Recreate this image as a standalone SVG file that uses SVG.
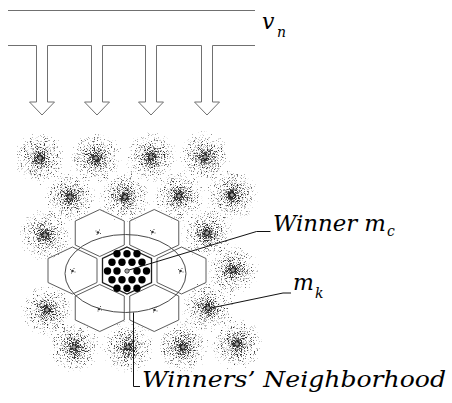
<svg xmlns="http://www.w3.org/2000/svg" width="452" height="403" viewBox="0 0 452 403">
  <style>
    .bus{fill:#fff;stroke:#707070;stroke-width:1}
    .hex{fill:none;stroke:#5c5c5c;stroke-width:1}
    .hex-win{fill:#fff;stroke:#1e1e1e;stroke-width:1.3}
    .ring{fill:none;stroke:#4a4a4a;stroke-width:1}
    .lead{fill:none;stroke:#111;stroke-width:1}
    .lbl{font-family:"DejaVu Serif","Liberation Serif",serif;font-style:italic;fill:#000}
    .core{fill:#fff;stroke:#000;stroke-width:0.9}
    .cloud{fill:url(#dens)}
    .spot{fill:#333}
  </style>
  <defs>
    <!-- density of the sample cloud around each prototype -->
    <radialGradient id="dens">
      <stop offset="0" stop-color="#000" stop-opacity="0.85"/>
      <stop offset="0.1" stop-color="#000" stop-opacity="0.7"/>
      <stop offset="0.25" stop-color="#000" stop-opacity="0.56"/>
      <stop offset="0.5" stop-color="#000" stop-opacity="0.47"/>
      <stop offset="0.75" stop-color="#000" stop-opacity="0.41"/>
      <stop offset="1" stop-color="#000" stop-opacity="0.3"/>
    </radialGradient>
    <!-- turns the density into scattered sample points -->
    <filter id="grain" color-interpolation-filters="sRGB">
      <feTurbulence type="fractalNoise" baseFrequency="1.3" numOctaves="1" seed="11" result="noise"/>
      <feColorMatrix in="noise" type="matrix" values="0 0 0 0 0  0 0 0 0 0  0 0 0 0 0  1 0 0 0 0" result="na"/>
      <feComposite in="na" in2="SourceGraphic" operator="arithmetic" k1="0" k2="1" k3="1" k4="-1" result="t"/>
      <feComponentTransfer in="t"><feFuncA type="linear" slope="5" intercept="0"/></feComponentTransfer>
    </filter>
    <polygon id="hexagon" points="0,-23.5 24.5,-12 24.5,12 0,23.5 -24.5,12 -24.5,-12"/>
    <g id="core"><circle r="2.1" class="core"/><circle r="0.7"/></g>
    <g id="mini"><circle r="1.3" class="spot"/><path d="M-2.5 -1.5h1M2 1h1M1 -2.5h1M-1.5 2h1" stroke="#555" stroke-width="1"/></g>
  </defs>

  <!-- input vector v_n feeding the map -->
  <g id="input">
    <path class="bus" fill="none" d="M8 10.5H255"/>
    <path class="bus" d="M8 45.5H36.5V102H29.5L42 115L54.5 102H47.5V45.5H91.5V102H84.5L97 115L109.5 102H102.5V45.5H145.5V102H138.5L151 115L163.5 102H156.5V45.5H201.5V102H194.5L207 115L219.5 102H212.5V45.5H255"/>
    <text class="lbl" x="262" y="28.5" font-size="22">v</text>
    <text class="lbl" x="277" y="36.5" font-size="14">n</text>
  </g>

  <!-- prototype vectors with their sample clouds -->
  <g id="m1"><circle class="cloud" cx="40" cy="158" r="27" opacity="0.8" filter="url(#grain)"/><use href="#core" x="40" y="158"/></g>
  <g id="m2"><circle class="cloud" cx="96" cy="158" r="27" opacity="0.8" filter="url(#grain)"/><use href="#core" x="96" y="158"/></g>
  <g id="m3"><circle class="cloud" cx="151" cy="157" r="27" opacity="0.8" filter="url(#grain)"/><use href="#core" x="151" y="157"/></g>
  <g id="m4"><circle class="cloud" cx="205" cy="157" r="27" opacity="0.8" filter="url(#grain)"/><use href="#core" x="205" y="157"/></g>
  <g id="m5"><circle class="cloud" cx="70" cy="197" r="27" opacity="0.8" filter="url(#grain)"/><use href="#core" x="70" y="197"/></g>
  <g id="m6"><circle class="cloud" cx="125" cy="197" r="27" opacity="0.8" filter="url(#grain)"/><use href="#core" x="125" y="197"/></g>
  <g id="m7"><circle class="cloud" cx="179" cy="196" r="27" opacity="0.8" filter="url(#grain)"/><use href="#core" x="179" y="196"/></g>
  <g id="m8"><circle class="cloud" cx="232" cy="195" r="27" opacity="0.8" filter="url(#grain)"/><use href="#core" x="232" y="195"/></g>
  <g id="m9"><circle class="cloud" cx="45" cy="235" r="27" opacity="0.8" filter="url(#grain)"/><use href="#core" x="45" y="235"/></g>
  <g id="m10"><circle class="cloud" cx="207" cy="233" r="27" opacity="0.8" filter="url(#grain)"/><use href="#core" x="207" y="233"/></g>
  <g id="m11"><circle class="cloud" cx="233" cy="270" r="27" opacity="0.8" filter="url(#grain)"/><use href="#core" x="233" y="270"/></g>
  <g id="m12"><circle class="cloud" cx="208" cy="308" r="27" opacity="0.8" filter="url(#grain)"/><use href="#core" x="208" y="308"/></g>
  <g id="m13"><circle class="cloud" cx="47" cy="310" r="27" opacity="0.8" filter="url(#grain)"/><use href="#core" x="47" y="310"/></g>
  <g id="m14"><circle class="cloud" cx="74" cy="347" r="27" opacity="0.8" filter="url(#grain)"/><use href="#core" x="74" y="347"/></g>
  <g id="m15"><circle class="cloud" cx="128" cy="347" r="27" opacity="0.8" filter="url(#grain)"/><use href="#core" x="128" y="347"/></g>
  <g id="m16"><circle class="cloud" cx="183" cy="347" r="27" opacity="0.8" filter="url(#grain)"/><use href="#core" x="183" y="347"/></g>
  <g id="m17"><circle class="cloud" cx="237" cy="344" r="27" opacity="0.8" filter="url(#grain)"/><use href="#core" x="237" y="344"/></g>

  <!-- neighbourhood cells around the winner -->
  <g id="n-tl"><use href="#hexagon" class="hex" x="99.75" y="233"/><use href="#mini" x="98" y="232.5"/></g>
  <g id="n-tr"><use href="#hexagon" class="hex" x="154.25" y="233"/><use href="#mini" x="152.5" y="232"/></g>
  <g id="n-l"><use href="#hexagon" class="hex" x="72.5" y="270.5"/><use href="#mini" x="72.5" y="271"/></g>
  <g id="n-r"><use href="#hexagon" class="hex" x="181.5" y="270.5"/><use href="#mini" x="180.5" y="271"/></g>
  <g id="n-bl"><use href="#hexagon" class="hex" x="99.75" y="308"/><use href="#mini" x="99" y="309"/></g>
  <g id="n-br"><use href="#hexagon" class="hex" x="154.25" y="308"/><use href="#mini" x="154.5" y="310"/></g>

  <!-- winning cell m_c with its captured samples -->
  <g id="winner">
    <use href="#hexagon" class="hex-win" x="127" y="270.5"/>
    <g fill="#000">
      <circle cx="117" cy="253.7" r="3.7"/><circle cx="127" cy="253.7" r="3.7"/><circle cx="137" cy="253.7" r="3.7"/>
      <circle cx="112" cy="262.3" r="3.7"/><circle cx="122" cy="262.3" r="3.7"/><circle cx="132" cy="262.3" r="3.7"/><circle cx="142" cy="262.3" r="3.7"/>
      <circle cx="107.5" cy="271" r="3.7"/><circle cx="117" cy="271" r="3.7"/><circle cx="137" cy="271" r="3.7"/><circle cx="146.5" cy="271" r="3.7"/>
      <circle cx="112" cy="279.7" r="3.7"/><circle cx="122" cy="279.7" r="3.7"/><circle cx="132" cy="279.7" r="3.7"/><circle cx="142" cy="279.7" r="3.7"/>
      <circle cx="117" cy="288.3" r="3.7"/><circle cx="127" cy="288.3" r="3.7"/><circle cx="137" cy="288.3" r="3.7"/>
    </g>
    <use href="#core" x="127" y="271"/>
  </g>

  <!-- neighbourhood boundary -->
  <g id="neighbourhood">
    <ellipse class="ring" cx="125.5" cy="273.5" rx="60.5" ry="39"/>
  </g>

  <!-- leader lines -->
  <g id="connectors">
    <path class="lead" d="M129 270L256.5 231.5H270.5"/>
    <path class="lead" d="M211 308L283 293H291"/>
    <path class="lead" d="M133.5 312.5V386.5H140"/>
  </g>

  <!-- labels -->
  <g id="labels">
    <text class="lbl" x="273" y="230.5" font-size="22" textLength="113" lengthAdjust="spacingAndGlyphs">Winner m</text>
    <text class="lbl" x="387" y="236" font-size="14">c</text>
    <text class="lbl" x="293" y="290" font-size="22">m</text>
    <text class="lbl" x="315" y="297.5" font-size="14">k</text>
    <text class="lbl" x="142" y="386.5" font-size="22" textLength="304" lengthAdjust="spacingAndGlyphs">Winners’ Neighborhood</text>
  </g>
</svg>
